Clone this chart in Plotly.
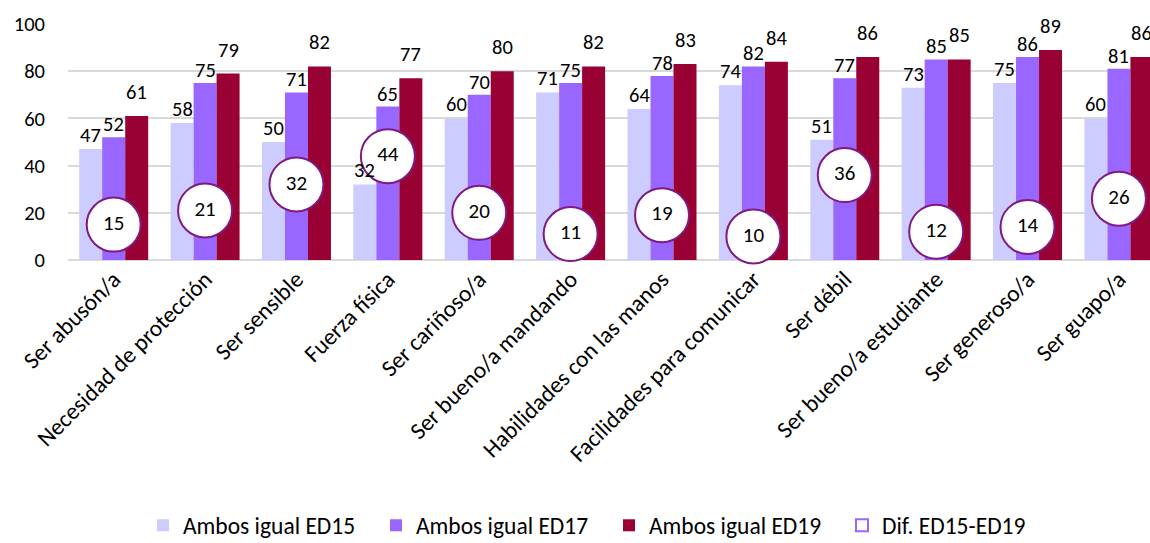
import plotly.graph_objects as go

# Categories and survey values
categorias = [
    "Ser abusón/a", "Necesidad de protección", "Ser sensible", "Fuerza física",
    "Ser cariñoso/a", "Ser bueno/a mandando", "Habilidades con las manos",
    "Facilidades para comunicar", "Ser débil", "Ser bueno/a estudiante",
    "Ser generoso/a", "Ser guapo/a",
]
ed15 = [47, 58, 50, 32, 60, 71, 64, 74, 51, 73, 75, 60]
ed17 = [52, 75, 71, 65, 70, 75, 78, 82, 77, 85, 86, 81]
ed19 = [61, 79, 82, 77, 80, 82, 83, 84, 86, 85, 89, 86]
dif_15_19 = [15, 21, 32, 44, 20, 11, 19, 10, 36, 12, 14, 26]

FONT = "Carlito, Lato, sans-serif"
FS_NUM = 20.5   # numbers: value labels, y ticks, circles
FS_TXT = 23.5   # category labels and legend

series = [
    ("Ambos igual ED15", ed15, "#CCCCFF", -23, 14),
    ("Ambos igual ED17", ed17, "#9966FF", 0, 13),
    ("Ambos igual ED19", ed19, "#990033", 23, 24),
]

fig = go.Figure()
annotations = []
for name, vals, color, dx, dy in series:
    fig.add_trace(go.Bar(
        x=categorias, y=vals, name=name,
        marker=dict(color=color, line=dict(width=0)),
    ))
    for c, v in zip(categorias, vals):
        annotations.append(dict(
            x=c, y=v, xref="x", yref="y", text=str(v), showarrow=False,
            xshift=dx, yshift=dy, yanchor="middle", xanchor="center",
            font=dict(family=FONT, size=FS_NUM, color="#000000"),
        ))

# Difference circles, placed at their own value
fig.add_trace(go.Scatter(
    x=categorias, y=dif_15_19, mode="markers+text", text=[str(v) for v in dif_15_19],
    textposition="middle center", showlegend=False, cliponaxis=False,
    marker=dict(size=54, color="#FFFFFF", line=dict(color="#7F1A80", width=2)),
    textfont=dict(family=FONT, size=21, color="#000000"),
))
# Legend entry for the difference series
fig.add_trace(go.Scatter(
    x=[None], y=[None], mode="markers", name="Dif. ED15-ED19",
    marker=dict(symbol="square-open", size=14, color="#9966FF", line=dict(width=2)),
))

fig.update_layout(
    width=1150, height=543,
    margin=dict(l=68, r=0, t=24, b=283, autoexpand=False),
    paper_bgcolor="#FFFFFF", plot_bgcolor="#FFFFFF",
    barmode="group", bargap=0.245, bargroupgap=0,
    font=dict(family=FONT, size=FS_NUM, color="#000000"),
    annotations=annotations,
    legend=dict(
        orientation="h", x=0.5, xanchor="center", y=-1.125, yanchor="middle",
        font=dict(family=FONT, size=FS_TXT), entrywidth=188, entrywidthmode="pixels",
        itemsizing="constant", traceorder="normal", tracegroupgap=0,
    ),
    xaxis=dict(
        type="category", range=[-0.5, 11.34], tickangle=-45, automargin=False,
        showgrid=False, showline=False, ticks="", zeroline=False,
        tickfont=dict(family=FONT, size=FS_TXT, color="#000000"),
    ),
    yaxis=dict(
        range=[0, 100], dtick=20, showgrid=True, gridcolor="#D9D9D9", gridwidth=1.5,
        zeroline=True, zerolinecolor="#D9D9D9", zerolinewidth=1.5, automargin=False,
        showline=False, ticks="", ticklabelstandoff=22,
        tickfont=dict(family=FONT, size=FS_NUM, color="#000000"),
    ),
)

fig.write_html("out.html")
